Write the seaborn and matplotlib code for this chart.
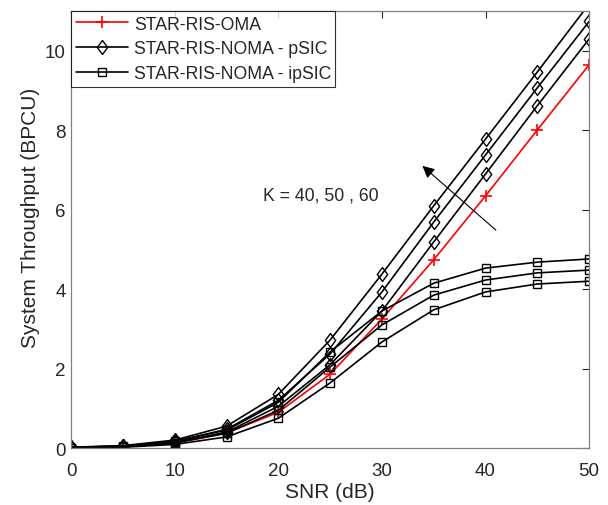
import matplotlib
matplotlib.use("Agg")
import matplotlib.pyplot as plt
from matplotlib.path import Path
import seaborn as sns

# SNR axis (dB)
snr = [0, 5, 10, 15, 20, 25, 30, 35, 40, 45, 50]

# STAR-RIS-OMA
oma = [0.01, 0.03, 0.12, 0.38, 0.90, 1.86, 3.25, 4.74, 6.35, 8.01, 9.65]

# STAR-RIS-NOMA pSIC, K = 40, 50, 60
psic_k40 = [0.02, 0.04, 0.14, 0.40, 1.05, 2.10, 3.45, 5.19, 6.90, 8.62, 10.30]
psic_k50 = [0.02, 0.05, 0.17, 0.47, 1.20, 2.37, 3.93, 5.69, 7.38, 9.07, 10.74]
psic_k60 = [0.02, 0.06, 0.20, 0.55, 1.35, 2.72, 4.38, 6.10, 7.78, 9.47, 11.18]

# STAR-RIS-NOMA ipSIC, K = 40, 50, 60
ipsic_k40 = [0.01, 0.02, 0.09, 0.28, 0.75, 1.64, 2.67, 3.48, 3.93, 4.13, 4.20]
ipsic_k50 = [0.01, 0.03, 0.13, 0.37, 0.95, 2.04, 3.10, 3.85, 4.23, 4.41, 4.48]
ipsic_k60 = [0.01, 0.05, 0.17, 0.45, 1.15, 2.42, 3.45, 4.15, 4.53, 4.68, 4.76]

sns.set_style("white")
plt.rcParams['font.family'] = ['Liberation Sans', 'DejaVu Sans']

# matlab-like diamond (a bit taller than wide)
diamond = Path([(0, -1), (0.75, 0), (0, 1), (-0.75, 0), (0, -1)],
               [Path.MOVETO, Path.LINETO, Path.LINETO, Path.LINETO, Path.CLOSEPOLY])

fig = plt.figure(figsize=(6.08, 5.06), dpi=100)
ax = fig.add_axes([0.117, 0.1126, 0.852, 0.8634])

sns.lineplot(x=snr, y=oma, ax=ax, color='red', lw=1.2, marker='+',
             markersize=9, markeredgecolor='red', markeredgewidth=1.2,
             label='STAR-RIS-OMA')

for i, vals in enumerate([psic_k40, psic_k50, psic_k60]):
    sns.lineplot(x=snr, y=vals, ax=ax, color='black', lw=1.2, marker=diamond,
                 markersize=10, markerfacecolor='none', markeredgecolor='black',
                 markeredgewidth=1.0,
                 label='STAR-RIS-NOMA - pSIC' if i == 0 else None)

for i, vals in enumerate([ipsic_k40, ipsic_k50, ipsic_k60]):
    sns.lineplot(x=snr, y=vals, ax=ax, color='black', lw=1.2, marker='s',
                 markersize=5.5, markerfacecolor='none', markeredgecolor='black',
                 markeredgewidth=1.0,
                 label='STAR-RIS-NOMA - ipSIC' if i == 0 else None)

ax.set_xlim(0, 50)
ax.set_ylim(0, 11)
ax.set_xticks(range(0, 51, 10))
ax.set_yticks(range(0, 11, 2))
ax.set_xlabel('SNR (dB)', fontsize=15, labelpad=2, color='#262626')
ax.set_ylabel('System Throughput (BPCU)', fontsize=15, color='#262626')
ax.yaxis.set_label_coords(-0.06, 0.529)
ax.tick_params(direction='in', length=5, width=0.8, labelsize=13.5,
               colors='#262626', top=True, right=True)
ax.tick_params(axis='x', pad=10)
ax.tick_params(axis='y', pad=4)
for s in ax.spines.values():
    s.set_color('#808080')
    s.set_linewidth(0.9)

# annotation with arrow
ax.text(18.5, 6.37, 'K = 40, 50 , 60', fontsize=12.7, va='center', ha='left')
ax.annotate('', xy=(33.7, 7.15), xytext=(41.2, 5.44),
            arrowprops=dict(arrowstyle='-|>', color='black', lw=0.8,
                            mutation_scale=18))

leg = ax.legend(loc='upper left', fontsize=12.7, handlelength=3.0,
                borderaxespad=0.0, frameon=True, fancybox=False,
                borderpad=0.25, labelspacing=0.45, handletextpad=0.3)
leg.get_frame().set_edgecolor('black')
leg.get_frame().set_linewidth(0.8)

fig.savefig('out.png', dpi=100)
